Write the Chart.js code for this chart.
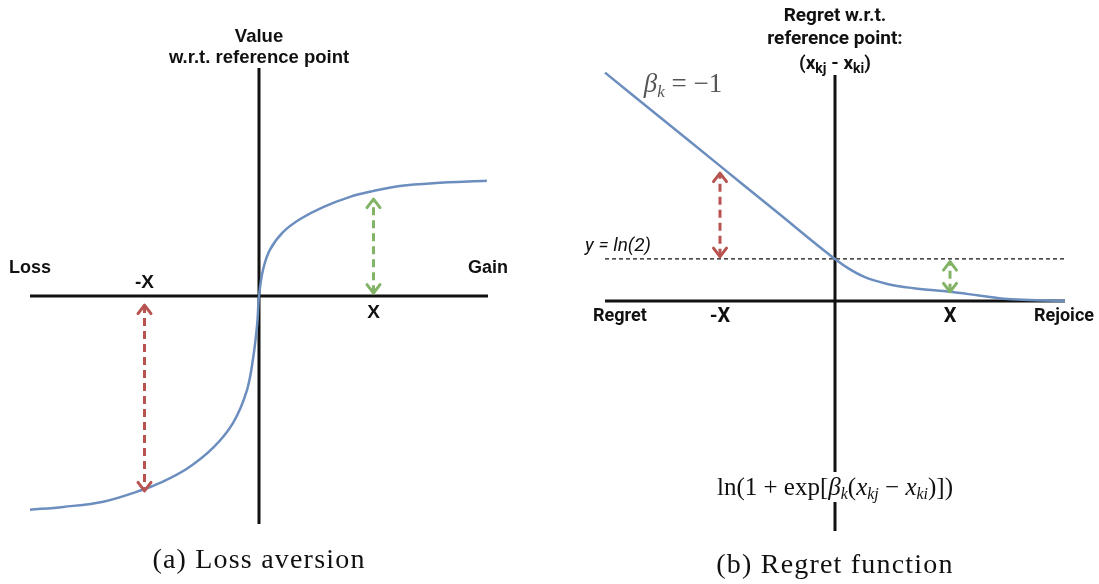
<!DOCTYPE html>
<html>
<head>
<meta charset="utf-8">
<script src="https://cdn.jsdelivr.net/npm/chart.js@4.4.0/dist/chart.umd.min.js"></script>
<style>
  html, body { margin: 0; background: #fff; }
  #wrap { position: relative; width: 1099px; height: 584px; }
  canvas { position: absolute; top: 0; }
  #lossChart { left: 0; }
  #regretChart { left: 549px; }
</style>
</head>
<body>
<div id="wrap">
  <canvas id="lossChart" width="549" height="584"></canvas>
  <canvas id="regretChart" width="550" height="584"></canvas>
</div>
<script>
// (a) value function, read point by point
var valueX = [-4, -3.42, -2.72, -2.03, -1.73, -1.26, -0.80, -0.45, -0.21, -0.10, -0.03, 0, 0.07, 0.19, 0.42, 0.72, 1.12, 1.59, 1.99, 2.46, 3.04, 3.98];
var valueY = [-3.75, -3.70, -3.61, -3.40, -3.28, -3.03, -2.66, -2.22, -1.65, -1.07, -0.47, 0, 0.46, 0.81, 1.12, 1.35, 1.56, 1.74, 1.84, 1.93, 1.98, 2.02];

// (b) regret function
var regretX = [-4, -3, -2, -1, 0, 0.22, 0.5, 0.91, 1.37, 2.01, 2.5, 3.0, 3.5, 4.0];
var regretY = [3.77, 3.00, 2.23, 1.46, 0.693, 0.545, 0.40, 0.28, 0.21, 0.15, 0.09, 0.03, 0.01, 0];
var lnTwo = Math.LN2;

// tick marks on the x axis
var tickValues = [-2, 2];
var tickLabels = ['-X', 'X'];

// dashed double arrows: [x, from, to]
var lossArrow = [-2, -0.16, -3.42];
var gainArrow = [2, 0.05, 1.70];
var regretArrow = [-2, 0.73, 2.11];
var rejoiceArrow = [2, 0.15, 0.65];

var BLUE = '#6c8ebf';
var RED = '#b85450';
var GREEN = '#82b366';
var INK = '#111';

function pts(xs, ys) {
    return xs.map(function (x, i) { return { x: x, y: ys[i] }; });
}

function line(data, color, width, dash) {
    return {
        data: data,
        borderColor: color,
        borderWidth: width,
        borderDash: dash || [],
        pointRadius: 0,
        fill: false,
        tension: 0,
        clip: false
    };
}

function arrowSet(a, color) {
    var d = line([{ x: a[0], y: a[1] }, { x: a[0], y: a[2] }], color, 3, [8, 5]);
    d.arrow = true;
    return d;
}

// open chevron tip at (x, y); dir -1 points up, +1 points down
function chevron(ctx, x, y, dir, color) {
    ctx.save();
    ctx.strokeStyle = color;
    ctx.lineWidth = 3;
    ctx.lineJoin = 'round';
    ctx.lineCap = 'round';
    ctx.beginPath();
    ctx.moveTo(x - 6.5, y - dir * 8.5);
    ctx.lineTo(x, y);
    ctx.lineTo(x + 6.5, y - dir * 8.5);
    ctx.stroke();
    ctx.restore();
}

// text made of runs with their own font and baseline shift
function drawRuns(ctx, runs, x, y) {
    var total = 0;
    runs.forEach(function (r) { ctx.font = r.font; total += ctx.measureText(r.text).width; });
    var cx = x - total / 2;
    ctx.textAlign = 'left';
    ctx.textBaseline = 'alphabetic';
    runs.forEach(function (r) {
        ctx.font = r.font;
        ctx.fillText(r.text, cx, y + (r.dy || 0));
        cx += ctx.measureText(r.text).width;
    });
}

var arrowHeads = {
    id: 'arrowHeads',
    afterDatasetsDraw: function (chart) {
        var ctx = chart.ctx, xs = chart.scales.x, ys = chart.scales.y;
        chart.data.datasets.forEach(function (d) {
            if (!d.arrow) return;
            var px = xs.getPixelForValue(d.data[0].x);
            var p1 = ys.getPixelForValue(d.data[0].y);
            var p2 = ys.getPixelForValue(d.data[1].y);
            chevron(ctx, px, p1, p1 < p2 ? -1 : 1, d.borderColor);
            chevron(ctx, px, p2, p2 < p1 ? -1 : 1, d.borderColor);
        });
    }
};

function baseOptions(pad, yMin, yMax) {
    return {
        responsive: false,
        animation: false,
        events: [],
        layout: { padding: pad },
        plugins: { legend: { display: false }, tooltip: { enabled: false } },
        scales: {
            x: { type: 'linear', min: -4, max: 4, display: false },
            y: { type: 'linear', min: yMin, max: yMax, display: false }
        }
    };
}

function caption(ctx, text, x, y) {
    ctx.save();
    ctx.fillStyle = INK;
    ctx.font = '28px "Liberation Serif", serif';
    ctx.letterSpacing = '1.2px';
    ctx.textAlign = 'center';
    ctx.textBaseline = 'middle';
    ctx.fillText(text, x, y);
    ctx.restore();
}

// Labels for the loss aversion panel
var lossLabels = {
    id: 'lossLabels',
    afterDatasetsDraw: function (chart) {
        var ctx = chart.ctx, a = chart.chartArea;
        var xs = chart.scales.x, ys = chart.scales.y;
        var cx = xs.getPixelForValue(0), axisY = ys.getPixelForValue(0);
        ctx.save();
        ctx.fillStyle = INK;
        ctx.textAlign = 'center';
        ctx.textBaseline = 'middle';
        ctx.font = 'bold 18.5px "Liberation Sans", Arial, sans-serif';
        ctx.fillText('Value', cx, a.top - 31);
        ctx.fillText('w.r.t. reference point', cx, a.top - 10);
        ctx.font = 'bold 18px "Liberation Sans", Arial, sans-serif';
        ctx.fillText('Loss', a.left, axisY - 28);
        ctx.fillText('Gain', a.right, axisY - 28);
        ctx.font = 'bold 19px "Liberation Sans", Arial, sans-serif';
        tickValues.forEach(function (v, i) {
            var off = v < 0 ? -13 : 17;
            ctx.fillText(tickLabels[i], xs.getPixelForValue(v), axisY + off);
        });
        ctx.restore();
        caption(ctx, '(a) Loss aversion', cx, 561);
    }
};

// Labels for the regret panel
var regretLabels = {
    id: 'regretLabels',
    afterDatasetsDraw: function (chart) {
        var ctx = chart.ctx, a = chart.chartArea;
        var xs = chart.scales.x, ys = chart.scales.y;
        var cx = xs.getPixelForValue(0), axisY = ys.getPixelForValue(0);
        var lnY = ys.getPixelForValue(lnTwo);
        var bold = 'bold 19px Roboto, "Liberation Sans", sans-serif';
        var boldSub = 'bold 14px Roboto, "Liberation Sans", sans-serif';
        var serif = '"Liberation Serif", serif';
        ctx.save();
        ctx.fillStyle = INK;
        ctx.textAlign = 'center';
        ctx.textBaseline = 'middle';
        ctx.font = bold;
        ctx.fillText('Regret w.r.t.', cx, 16);
        ctx.fillText('reference point:', cx, 39);
        drawRuns(ctx, [
            { text: '(x', font: bold },
            { text: 'kj', font: boldSub, dy: 4 },
            { text: ' - x', font: bold },
            { text: 'ki', font: boldSub, dy: 4 },
            { text: ')', font: bold }
        ], cx, 69);

        ctx.textAlign = 'left';
        ctx.textBaseline = 'middle';
        ctx.font = 'bold 18px Roboto, "Liberation Sans", sans-serif';
        ctx.fillText('Regret', a.left - 12, axisY + 16);
        ctx.textAlign = 'center';
        ctx.fillText('Rejoice', a.right - 1, axisY + 16);
        ctx.font = 'bold 20px Roboto, "Liberation Sans", sans-serif';
        tickValues.forEach(function (v, i) {
            ctx.fillText(tickLabels[i], xs.getPixelForValue(v), axisY + 16);
        });

        ctx.textAlign = 'left';
        ctx.font = 'italic 19px Roboto, "Liberation Sans", sans-serif';
        ctx.fillText('y = ln(2)', a.left - 20, lnY - 13);

        // beta label beside the curve
        ctx.fillStyle = '#555';
        drawRuns(ctx, [
            { text: 'β', font: 'italic 27px ' + serif },
            { text: 'k', font: 'italic 17px ' + serif, dy: 5 },
            { text: ' = −1', font: '27px ' + serif }
        ], a.left + 78, 92);

        // formula over the lower axis
        ctx.fillStyle = '#fff';
        ctx.fillRect(cx - 128, 472, 256, 30);
        ctx.fillStyle = INK;
        drawRuns(ctx, [
            { text: 'ln(1 + exp[', font: '25px ' + serif },
            { text: 'β', font: 'italic 25px ' + serif },
            { text: 'k', font: 'italic 16px ' + serif, dy: 4 },
            { text: '(', font: '25px ' + serif },
            { text: 'x', font: 'italic 25px ' + serif },
            { text: 'kj', font: 'italic 16px ' + serif, dy: 4 },
            { text: ' − ', font: '25px ' + serif },
            { text: 'x', font: 'italic 25px ' + serif },
            { text: 'ki', font: 'italic 16px ' + serif, dy: 4 },
            { text: ')])', font: '25px ' + serif }
        ], cx, 495);
        ctx.restore();
        caption(ctx, '(b) Regret function', cx, 566);
    }
};

// smooth S-shaped value curve
var valueCurve = line(pts(valueX, valueY), BLUE, 2.5);
valueCurve.tension = 0.35;

new Chart(document.getElementById('lossChart'), {
    type: 'line',
    data: {
        datasets: [
            valueCurve,
            arrowSet(lossArrow, RED),
            arrowSet(gainArrow, GREEN),
            line([{ x: -4, y: 0 }, { x: 4, y: 0 }], INK, 3),
            line([{ x: 0, y: -4 }, { x: 0, y: 4 }], INK, 3)
        ]
    },
    options: baseOptions({ left: 30, right: 61, top: 68, bottom: 60 }, -4, 4),
    plugins: [arrowHeads, lossLabels]
});

var regretCurve = line(pts(regretX, regretY), BLUE, 2.5);
regretCurve.cubicInterpolationMode = 'monotone';

new Chart(document.getElementById('regretChart'), {
    type: 'line',
    data: {
        datasets: [
            regretCurve,
            arrowSet(regretArrow, RED),
            arrowSet(rejoiceArrow, GREEN),
            line([{ x: -4, y: lnTwo }, { x: 4, y: lnTwo }], INK, 1.2, [4, 3]),
            line([{ x: -4, y: 0 }, { x: 4, y: 0 }], INK, 3),
            line([{ x: 0, y: -3.8 }, { x: 0, y: 3.73 }], INK, 3)
        ]
    },
    options: baseOptions({ left: 56, right: 34, top: 69, bottom: 53 }, -3.8, 3.83),
    plugins: [arrowHeads, regretLabels]
});
</script>
</body>
</html>
